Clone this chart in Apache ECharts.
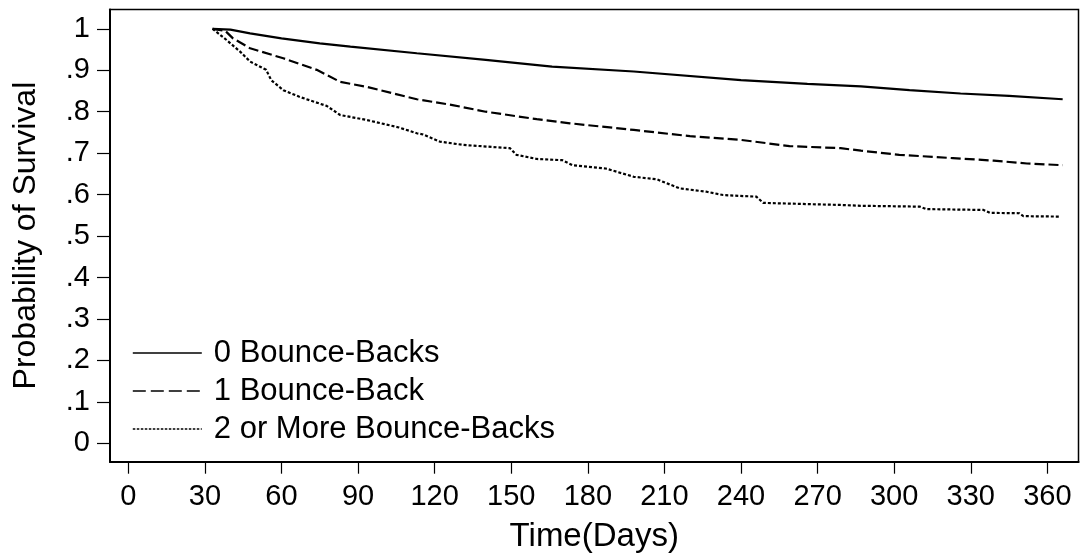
<!DOCTYPE html>
<html>
<head>
<meta charset="utf-8">
<script src="https://cdn.jsdelivr.net/npm/echarts@6/dist/echarts.min.js"></script>
<style>
html,body{margin:0;padding:0;background:#fff;}
#chart{width:1084px;height:560px;}
</style>
</head>
<body>
<div id="chart"></div>
<script>
// Kaplan-Meier survival estimates: [day, probability]
const seriesNames = ['0 Bounce-Backs', '1 Bounce-Back', '2 or More Bounce-Backs'];
const survZero = [[33,1],[40,0.998],[47.7,0.989],[60,0.977],[75,0.965],[87,0.957],[113,0.941],[140,0.925],[166,0.909],[198,0.897],[240,0.876],[266,0.867],[287,0.861],[306,0.852],[326,0.844],[345,0.838],[366,0.830]];
const survOne = [[33,1],[38,0.995],[41,0.977],[47.7,0.953],[60.7,0.929],[73.8,0.901],[83,0.872],[93.4,0.860],[113,0.830],[127,0.816],[140,0.800],[160,0.782],[173,0.772],[198,0.756],[220,0.741],[240,0.732],[259,0.717],[279,0.712],[287,0.706],[302,0.696],[323,0.688],[339,0.682],[352,0.675],[366,0.671]];
const survTwoPlus = [[33,1],[38.5,0.973],[43.8,0.945],[47.7,0.921],[54,0.901],[56,0.876],[60.7,0.852],[67,0.836],[77.7,0.814],[83,0.792],[93.4,0.780],[106,0.762],[113,0.748],[115.5,0.745],[122,0.728],[131,0.720],[149.5,0.712],[152,0.696],[160,0.686],[170,0.683],[174,0.671],[187,0.663],[198,0.643],[207,0.637],[216,0.615],[226.5,0.607],[233,0.599],[246,0.595],[248.7,0.580],[279,0.575],[287,0.573],[310,0.571],[312.7,0.565],[335,0.563],[337.5,0.556],[349,0.555],[350.6,0.548],[364.6,0.547]];
const xTicks = [0,30,60,90,120,150,180,210,240,270,300,330,360];
const yTicks = [0,0.1,0.2,0.3,0.4,0.5,0.6,0.7,0.8,0.9,1];
const xTitle = 'Time(Days)';
const yTitle = 'Probability of Survival';

const FONT = '"Liberation Sans", Arial, sans-serif';
const chart = echarts.init(document.getElementById('chart'), null, {renderer: 'canvas'});
const lineStyles = [
  {type: 'solid', width: 2.2},
  {type: [10, 4], width: 2.2},
  {type: [3, 2], width: 2.2}
];
const legendLineStyles = [
  {type: 'solid', width: 1.6},
  {type: [13, 5], width: 1.6},
  {type: [2.5, 1.5], width: 1.6}
];
const dataSets = [survZero, survOne, survTwoPlus];

chart.setOption({
  animation: false,
  backgroundColor: '#fff',
  grid: {left: 110, right: 5.5, top: 9.5, bottom: 98.3, show: true, borderColor: '#000', borderWidth: 1.5, containLabel: false},
  legend: {
    orient: 'vertical',
    left: 132, top: 334, padding: 0,
    itemWidth: 69, itemHeight: 12, itemGap: 0,
    selectedMode: false,
    itemStyle: {opacity: 0},
    data: seriesNames.map((n, i) => ({
      name: n,
      itemStyle: {opacity: 0, color: 'rgba(0,0,0,0)', borderWidth: 0},
      lineStyle: Object.assign({color: '#000', opacity: 1}, legendLineStyles[i])
    })),
    textStyle: {fontFamily: FONT, fontSize: 31, color: '#000', lineHeight: 38, padding: [0, 0, 0, 7]}
  },
  xAxis: {
    type: 'value', min: -7.17, max: 372.2,
    name: xTitle, nameLocation: 'middle', nameGap: 59,
    nameTextStyle: {fontFamily: FONT, fontSize: 33, color: '#000'},
    splitLine: {show: false},
    axisLine: {show: true, onZero: false, lineStyle: {color: '#000', width: 2.2}},
    axisTick: {show: true, customValues: xTicks, length: 12, lineStyle: {color: '#000', width: 1.2}},
    axisLabel: {customValues: xTicks, fontFamily: FONT, fontSize: 29, color: '#000', margin: 21}
  },
  yAxis: {
    type: 'value', min: -0.0444, max: 1.0466,
    name: yTitle, nameLocation: 'middle', nameGap: 68, nameRotate: 90,
    nameTextStyle: {fontFamily: FONT, fontSize: 32, color: '#000'},
    splitLine: {show: false},
    axisLine: {show: true, onZero: false, lineStyle: {color: '#000', width: 2}},
    axisTick: {show: true, customValues: yTicks, length: 13, lineStyle: {color: '#000', width: 1.2}},
    axisLabel: {
      customValues: yTicks, fontFamily: FONT, fontSize: 29, color: '#000', margin: 20,
      formatter: v => {
        const n = Math.round(v * 10);
        return n === 0 ? '0' : (n === 10 ? '1' : '.' + n);
      }
    }
  },
  series: seriesNames.map((n, i) => ({
    name: n,
    type: 'line',
    data: dataSets[i],
    showSymbol: false,
    symbol: 'none',
    color: '#000',
    lineStyle: Object.assign({color: '#000'}, lineStyles[i]),
    emphasis: {disabled: true}
  }))
});
</script>
</body>
</html>
